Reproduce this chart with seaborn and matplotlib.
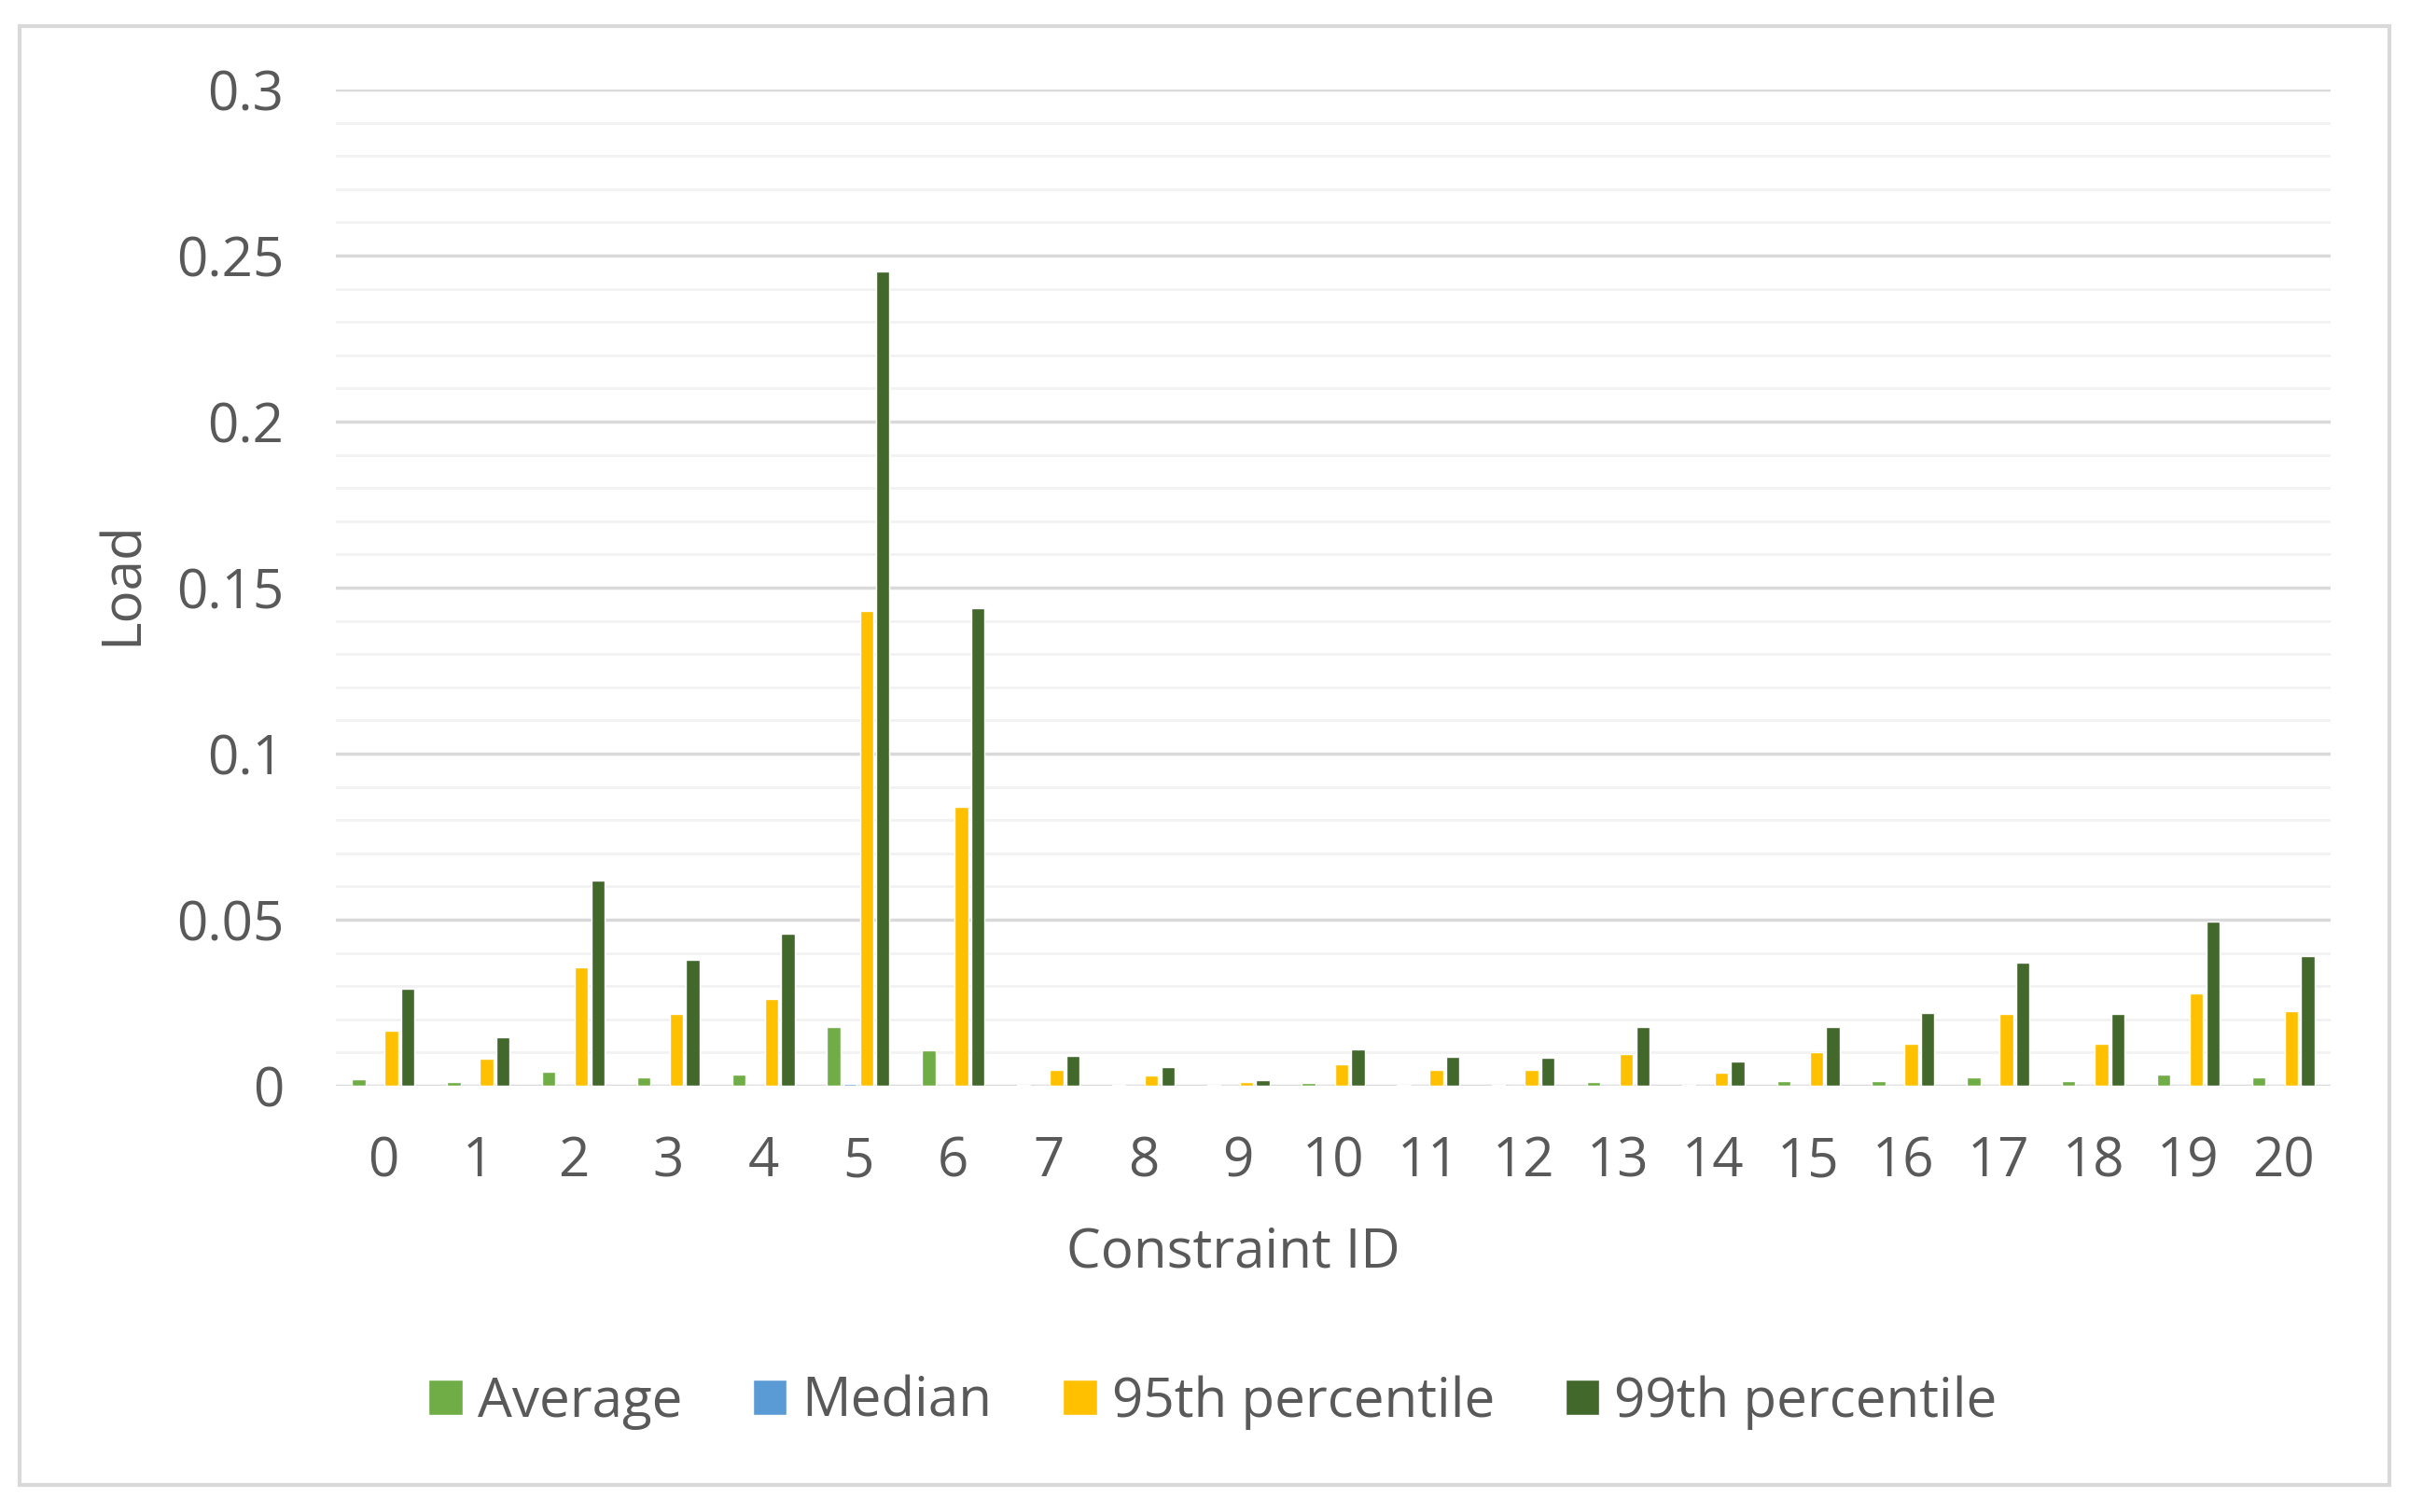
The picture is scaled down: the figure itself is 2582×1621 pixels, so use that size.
import pandas as pd
import matplotlib.pyplot as plt
import seaborn as sns
import numpy as np
from matplotlib.patches import Rectangle

# values
constraint_ids = [str(i) for i in range(21)]
average = [0.0020, 0.0010, 0.0043, 0.0026, 0.0033, 0.0176, 0.0106, 0.0003, 0.0003, 0.0003, 0.0008,
           0.0003, 0.0003, 0.0011, 0.0003, 0.0014, 0.0014, 0.0026, 0.0014, 0.0033, 0.0026]
median = [0.0001, 0.0001, 0.0001, 0.0001, 0.0001, 0.0007, 0.0001, 0.0, 0.0, 0.0, 0.0001,
          0.0, 0.0, 0.0001, 0.0, 0.0001, 0.0001, 0.0001, 0.0001, 0.0001, 0.0001]
p95 = [0.0166, 0.0082, 0.0356, 0.0215, 0.0262, 0.1429, 0.0840, 0.0047, 0.0030, 0.0010, 0.0066,
       0.0047, 0.0047, 0.0097, 0.0039, 0.0102, 0.0126, 0.0215, 0.0126, 0.0279, 0.0226]
p99 = [0.0292, 0.0146, 0.0619, 0.0378, 0.0459, 0.2452, 0.1439, 0.0090, 0.0056, 0.0017, 0.0110,
       0.0087, 0.0083, 0.0177, 0.0073, 0.0177, 0.0219, 0.0372, 0.0215, 0.0494, 0.0391]
series_names = ['Average', 'Median', '95th percentile', '99th percentile']
colors = ['#70AD47', '#5B9BD5', '#FFC000', '#43682B']

df = pd.DataFrame({'Constraint ID': constraint_ids * 4,
                   'Load': average + median + p95 + p99,
                   'Series': np.repeat(series_names, len(constraint_ids))})

sns.set_style('white')
plt.rcParams['font.family'] = ['Open Sans', 'DejaVu Sans']
text_color = '#595959'
fs = 42

fig = plt.figure(figsize=(25.82, 16.21), dpi=100)
ax = fig.add_axes([0.1394, 0.2819, 0.8281, 0.6589])

sns.barplot(data=df, x='Constraint ID', y='Load', hue='Series', palette=colors, saturation=1,
            width=0.69, gap=0.18, edgecolor='white', linewidth=1.0, ax=ax, zorder=3)

ax.set_ylim(0, 0.3)
ax.set_xlim(-0.5, 20.5)
ax.set_yticks(np.arange(0, 0.31, 0.05))
ax.set_yticklabels(['0', '0.05', '0.1', '0.15', '0.2', '0.25', '0.3'])
ax.set_yticks(np.arange(0, 0.301, 0.01), minor=True)
ax.grid(axis='y', which='major', color='#D9D9D9', linewidth=2.5, zorder=0)
ax.grid(axis='y', which='minor', color='#F2F2F2', linewidth=2.0, zorder=0)
ax.set_axisbelow(True)
for s in ax.spines.values():
    s.set_visible(False)
ax.tick_params(axis='both', which='both', length=0, labelsize=fs, labelcolor=text_color)
ax.tick_params(axis='x', pad=38)
ax.tick_params(axis='y', pad=40)
for lbl in ax.get_xticklabels() + ax.get_yticklabels():
    lbl.set_fontweight(500)

ax.set_xlabel('Constraint ID', fontsize=fs, color=text_color, fontweight=500)
ax.xaxis.set_label_coords(0.45, -0.14)
ax.set_ylabel('Load', fontsize=fs, color=text_color, fontweight=500)
ax.yaxis.set_label_coords(-0.093, 0.505)

leg = ax.legend(loc='center', bbox_to_anchor=(0.5035, 0.0725), bbox_transform=fig.transFigure,
                ncol=4, frameon=False, fontsize=fs, labelcolor=text_color,
                handlelength=0.62, handleheight=0.62, handletextpad=0.28, columnspacing=1.3)
for t in leg.get_texts():
    t.set_fontweight(500)

# light border round the chart
fig.patches.append(Rectangle((0.008, 0.018), 0.984, 0.965, transform=fig.transFigure,
                             fill=False, edgecolor='#D9D9D9', linewidth=3))

fig.savefig('out.png', dpi=100, facecolor='white')
